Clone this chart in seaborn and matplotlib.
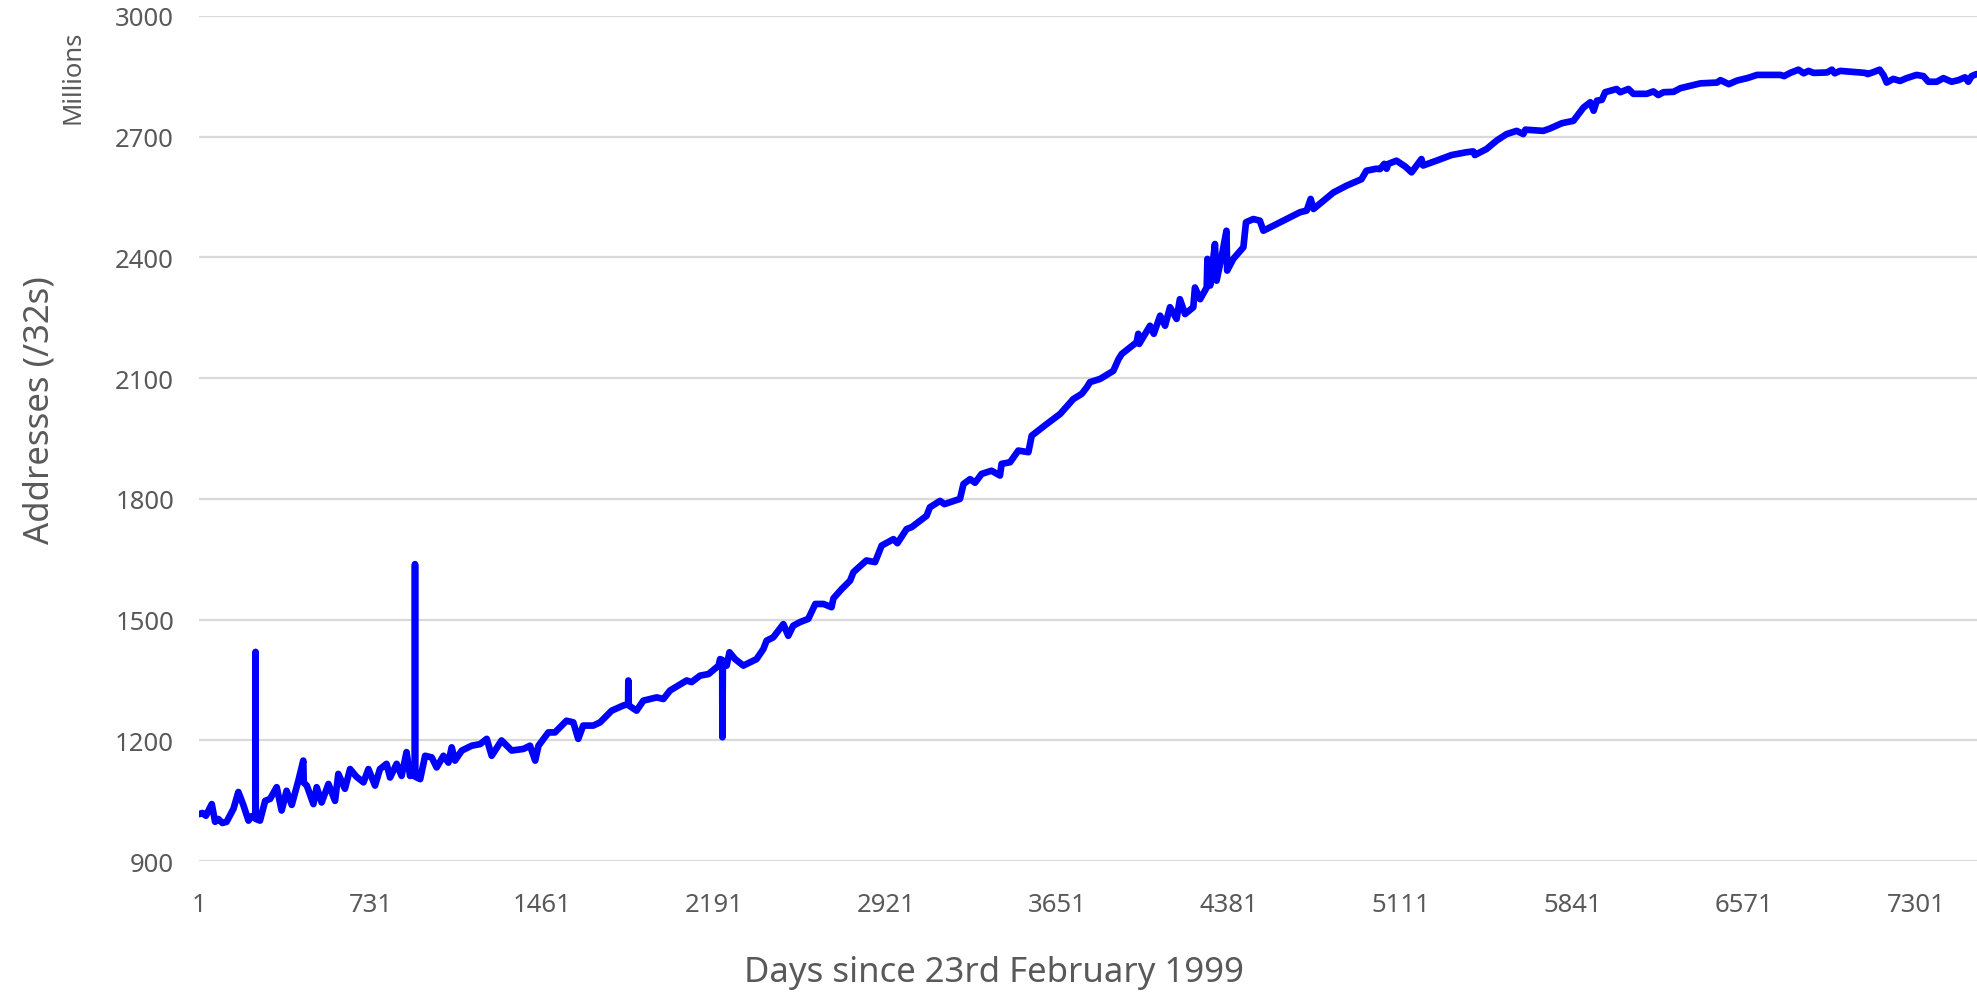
import matplotlib
matplotlib.use("Agg")
import matplotlib.pyplot as plt
import seaborn as sns

# Dias desde el 23 de febrero de 1999 y direcciones (millones de /32)
days = [1, 15, 30, 55, 69, 83, 100, 118, 147, 168, 189, 211, 225, 240, 241, 242, 260, 282, 303, 331,
        352, 373, 395, 423, 444, 446, 459, 487, 501, 522, 551, 579, 593, 621, 643, 670, 700, 721, 749, 770,
        798, 813, 841, 862, 883, 898, 918, 919, 920, 941, 962, 990, 1011, 1040, 1061, 1075, 1089, 1118,
        1160, 1196, 1224, 1245, 1287, 1330, 1380, 1408, 1430, 1444, 1486, 1514, 1563, 1592, 1613, 1634,
        1677, 1706, 1755, 1805, 1825, 1826, 1828, 1861, 1890, 1918, 1947, 1975, 2003, 2074, 2095, 2131,
        2167, 2210, 2216, 2225, 2226,
        2228, 2244, 2256, 2280, 2315, 2371, 2400, 2414, 2442, 2485, 2506, 2527, 2556, 2591, 2621, 2656,
        2690, 2698, 2733, 2769, 2783, 2838, 2875, 2903, 2953, 2970, 3009, 3031, 3094, 3108, 3151, 3170,
        3236, 3251, 3279, 3300, 3328, 3370, 3406, 3413, 3449, 3484, 3527, 3541, 3605, 3662, 3718, 3754,
        3775, 3789, 3832, 3888, 3910, 3924, 3987, 3994, 3998, 4044, 4060, 4087, 4108, 4129, 4157, 4171,
        4193, 4228, 4235, 4257, 4285, 4288, 4300, 4320, 4327, 4348, 4369, 4372, 4398, 4441, 4452, 4483,
        4511, 4526, 4597, 4682, 4710, 4727, 4739, 4824, 4880, 4943, 4964, 5006, 5022, 5040, 5050, 5057,
        5092, 5130, 5156, 5198, 5205, 5262, 5326, 5390, 5418, 5425, 5475, 5518, 5560, 5603, 5631, 5640,
        5716, 5745, 5795, 5844, 5866, 5887, 5916, 5930, 5944, 5965, 5979, 6028, 6043, 6078, 6099, 6156,
        6184, 6205, 6227, 6270, 6299, 6341, 6384, 6455, 6469, 6505, 6540, 6583, 6625, 6724, 6740, 6766,
        6801, 6823, 6844, 6865, 6922, 6943, 6955, 6978, 7085, 7095, 7120, 7146, 7163, 7176, 7204, 7233,
        7261, 7303, 7332, 7353, 7389, 7417, 7452, 7481, 7509, 7523, 7537, 7558]
addresses = [1017, 1020, 1013, 1042, 998, 1005, 995, 998, 1030, 1072, 1040, 1001, 1012, 1010, 1420, 1005,
             1001, 1050, 1055, 1084, 1026, 1075, 1040, 1100, 1150, 1095, 1088, 1042, 1084, 1046, 1092, 1050,
             1117, 1080, 1129, 1110, 1096, 1129, 1088, 1129, 1142, 1108, 1142, 1112, 1171, 1112, 1115, 1638,
             1110, 1104, 1162, 1158, 1133, 1162, 1145, 1183, 1150, 1175, 1187, 1191, 1204, 1162, 1200, 1175,
             1179, 1187, 1150, 1187, 1220, 1220, 1249, 1245, 1204, 1237, 1237, 1245, 1274, 1287, 1290, 1349,
             1287, 1274, 1299, 1303, 1307, 1303, 1324, 1349, 1345, 1361, 1365, 1386, 1402, 1400, 1208,
             1390, 1386, 1419, 1402, 1386, 1402,
             1427, 1448, 1456, 1489, 1460, 1485, 1494, 1502, 1539, 1539, 1531, 1553, 1576, 1597, 1618, 1647,
             1643, 1684, 1700, 1690, 1725, 1730, 1758, 1779, 1795, 1787, 1800, 1837, 1849, 1840, 1862, 1870,
             1858, 1887, 1891, 1920, 1916, 1957, 1986, 2011, 2048, 2061, 2077, 2090, 2098, 2118, 2147, 2160,
             2189, 2210, 2185, 2230, 2210, 2255, 2230, 2276, 2247, 2296, 2259, 2276, 2325, 2296, 2325, 2396,
             2330, 2433, 2342, 2400, 2466, 2367, 2396, 2425, 2487, 2495, 2491, 2466, 2487, 2512, 2516, 2545,
             2520, 2561, 2578, 2594, 2615, 2620, 2619, 2632, 2620, 2632, 2640, 2625, 2611, 2644, 2628, 2640,
             2654, 2661, 2663, 2654, 2669, 2690, 2706, 2714, 2706, 2717, 2714, 2720, 2733, 2739, 2756, 2772,
             2785, 2764, 2789, 2791, 2810, 2818, 2810, 2818, 2806, 2806, 2812, 2803, 2810, 2811, 2820, 2826,
             2832, 2834, 2840, 2830, 2839, 2845, 2853, 2853, 2850, 2858, 2866, 2857, 2863, 2858, 2859, 2866,
             2857, 2863, 2858, 2855, 2860, 2866, 2852, 2834, 2843, 2838, 2845, 2853, 2850, 2836, 2836, 2845,
             2836, 2840, 2847, 2836, 2850, 2855]

x_ticks = [1, 731, 1461, 2191, 2921, 3651, 4381, 5111, 5841, 6571, 7301]
y_ticks = [900, 1200, 1500, 1800, 2100, 2400, 2700, 3000]

sns.set_theme(style="white")
plt.rcParams['font.family'] = ['Noto Sans', 'DejaVu Sans']
gris = "#595959"

fig = plt.figure(figsize=(19.77, 9.95), dpi=100)
ax = fig.add_axes([0.1007, 0.1334, 0.8993, 0.8498])

sns.lineplot(x=days, y=addresses, ax=ax, color="#0000ff", linewidth=4.8,
             estimator=None, sort=False, solid_capstyle="round", solid_joinstyle="round", zorder=3)

ax.set_xlim(1, 7560)
ax.set_ylim(900, 3000)
ax.set_xticks(x_ticks)
ax.set_xticklabels([str(t) for t in x_ticks])
ax.set_yticks(y_ticks)
ax.set_yticklabels([str(t) for t in y_ticks])
ax.tick_params(axis="both", length=0, labelsize=18.5, labelcolor=gris)
ax.tick_params(axis="y", pad=18)
ax.tick_params(axis="x", pad=22)
ax.yaxis.grid(True, color="#d9d9d9", linewidth=1.6, zorder=0)
ax.xaxis.grid(False)
for s in ax.spines.values():
    s.set_visible(False)
ax.set_xlabel("")
ax.set_ylabel("")

fig.text(0.503, 0.022, "Days since 23rd February 1999", ha="center", va="center",
         fontsize=25, color=gris)
fig.text(0.0202, 0.588, "Addresses (/32s)", ha="center", va="center", rotation=90,
         fontsize=25, color=gris)
fig.text(0.037, 0.922, "Millions", ha="center", va="center", rotation=90,
         fontsize=18.5, color=gris)

fig.savefig("out.png", dpi=100)
